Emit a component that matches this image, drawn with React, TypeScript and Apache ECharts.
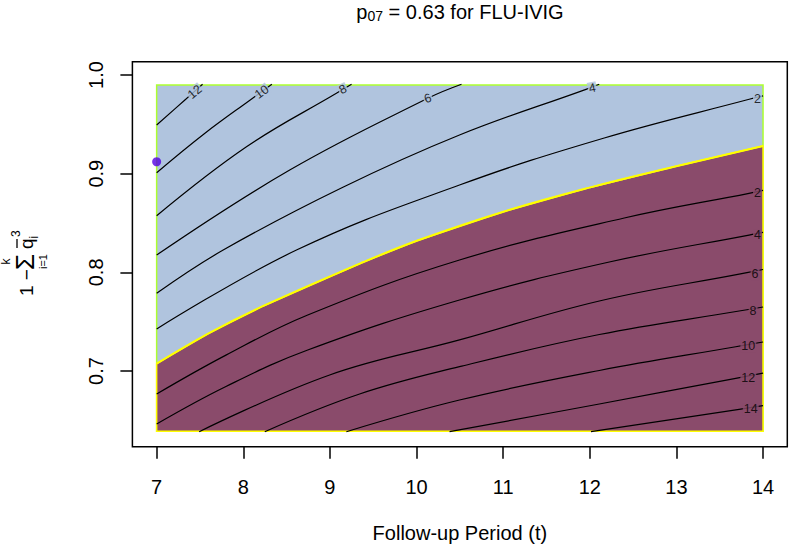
import React, { useEffect, useRef } from "react";
import * as echarts from "echarts";

// ---------- data (t = follow-up period, s = 1 - sum q) ----------
const xTicks = [7, 8, 9, 10, 11, 12, 13, 14];
const yTicks = [0.7, 0.8, 0.9, 1.0];
const xLimits = [6.72, 14.28];
const yLimits = [0.6233, 1.0135];
const regionT = [7, 14];
const regionS = [0.639, 0.99];

// zero contour (border between the two regions)
const boundary = [[7.0, 0.7075], [7.6, 0.7382], [8.225, 0.7657], [9.381, 0.8102], [10.012, 0.8323], [11.003, 0.8615], [12.006, 0.8861], [13.009, 0.9077], [14.0, 0.928]];

// contours above the border
const upper12 = [[7.0, 0.9493], [7.326, 0.9747], [7.53, 0.9906]];
const upper10 = [[7.0, 0.901], [7.55, 0.9405], [8.1, 0.976], [8.33, 0.9906]];
const upper8 = [[7.0, 0.8574], [8.037, 0.9273], [9.075, 0.9815], [9.25, 0.9906]];
const upper6 = [[7.0, 0.8176], [8.536, 0.9037], [10.13, 0.9764], [10.519, 0.9906]];
const upper4 = [[7.0, 0.7788], [7.768, 0.8226], [9.132, 0.8855], [10.496, 0.9392], [11.956, 0.9855], [12.109, 0.9906]];
const upper2 = [[7.0, 0.7426], [8.614, 0.8226], [10.496, 0.8885], [12.167, 0.9362], [13.84, 0.9754], [14.0, 0.9789]];

// contours below the border
const lower2 = [[7.0, 0.6767], [7.8, 0.7161], [8.744, 0.7568], [10.496, 0.8125], [12.398, 0.8551], [13.838, 0.8801], [14.0, 0.883]];
const lower4 = [[7.0, 0.6463], [7.8, 0.6843], [8.744, 0.7213], [10.496, 0.772], [12.225, 0.8105], [13.838, 0.8378], [14.0, 0.8405]];
const lower6 = [[7.491, 0.6385], [8.997, 0.696], [10.496, 0.7315], [12.11, 0.771], [13.724, 0.7982], [14.0, 0.8029]];
const lower8 = [[8.248, 0.6385], [9.343, 0.6767], [10.496, 0.7044], [12.11, 0.737], [13.724, 0.7608], [14.0, 0.7649]];
const lower10 = [[9.19, 0.6385], [10.496, 0.6706], [12.11, 0.7005], [13.685, 0.7246], [14.0, 0.7294]];
const lower12 = [[10.381, 0.6385], [12.11, 0.6666], [13.685, 0.6926], [14.0, 0.6978]];
const lower14 = [[12.014, 0.6385], [13.724, 0.6612], [14.0, 0.6649]];

// contour labels
const labelText = ["12", "10", "8", "6", "4", "2", "2", "4", "6", "8", "10", "12", "14"];
const labelT = [7.441, 8.214, 9.151, 10.13, 12.029, 13.936, 13.936, 13.936, 13.908, 13.885, 13.83, 13.83, 13.858];
const labelS = [0.9828, 0.9828, 0.9855, 0.9764, 0.9868, 0.9754, 0.8801, 0.8378, 0.7983, 0.7608, 0.7253, 0.6926, 0.6612];

// observed point
const pointT = [7];
const pointS = [0.9121];

// ---------- styles ----------
const FONT = "'Liberation Sans', Arial, Helvetica, sans-serif";
const BLUE = "#B0C4DE";
const PURPLE = "#8A4B6B";
const labelAngle = [40, 36, 26, 18, 12, 0, 0, 0, 0, 0, 0, 0, 0];
const labelUpperCount = 6;

const contourSets = [upper12, upper10, upper8, upper6, upper4, upper2, lower2, lower4, lower6, lower8, lower10, lower12, lower14];

function mid(fs: number, base: number) {
  return base - 0.35 * fs;
}

export default function App() {
  const ref = useRef<HTMLDivElement>(null);

  useEffect(() => {
    if (!ref.current) return;
    const chart = echarts.init(ref.current, null, { renderer: "svg" });

    const contourSeries = contourSets.map((pts) => ({
      type: "line",
      data: pts,
      smooth: 0.4,
      symbol: "none",
      silent: true,
      z: 3,
      lineStyle: { color: "#000", width: 1.2 },
    }));

    const option: any = {
      animation: false,
      backgroundColor: "#fff",
      grid: {
        left: 132.4,
        right: 3.7,
        top: 61.7,
        bottom: 100.3,
        show: true,
        borderColor: "#000",
        borderWidth: 1.5,
        backgroundColor: "transparent",
        containLabel: false,
        outerBoundsMode: "none",
      },
      xAxis: {
        type: "value",
        min: xLimits[0],
        max: xLimits[1],
        axisLine: { show: false },
        splitLine: { show: false },
        axisTick: {
          show: true,
          inside: false,
          length: 12,
          customValues: xTicks,
          lineStyle: { color: "#000", width: 1.5 },
        },
        axisLabel: {
          customValues: xTicks,
          margin: 30,
          fontSize: 20,
          color: "#000",
          fontFamily: FONT,
          formatter: (v: number) => String(v),
        },
        name: "Follow-up Period (t)",
        nameLocation: "middle",
        nameGap: 76,
        nameTextStyle: { fontSize: 20, color: "#000", fontFamily: FONT },
      },
      yAxis: {
        type: "value",
        min: yLimits[0],
        max: yLimits[1],
        axisLine: { show: false },
        splitLine: { show: false },
        axisTick: {
          show: true,
          inside: false,
          length: 12,
          customValues: yTicks,
          lineStyle: { color: "#000", width: 1.5 },
        },
        axisLabel: {
          customValues: yTicks,
          rotate: 90,
          margin: 26,
          fontSize: 20,
          color: "#000",
          fontFamily: FONT,
          formatter: (v: number) => v.toFixed(1),
        },
      },
      graphic: [
        {
          type: "text",
          x: 460,
          y: 1,
          silent: true,
          style: {
            text: "{p|p}{s|07}{m| = 0.63 for FLU-IVIG}",
            align: "center",
            textAlign: "center",
            verticalAlign: "top",
            textVerticalAlign: "top",
            fill: "#000",
            rich: {
              p: { fontSize: 20, lineHeight: 22, fontFamily: FONT, fill: "#000" },
              s: { fontSize: 14, lineHeight: 14, verticalAlign: "bottom", fontFamily: FONT, fill: "#000" },
              m: { fontSize: 20, lineHeight: 22, fontFamily: FONT, fill: "#000" },
            },
          },
        },
        {
          type: "group",
          x: 33,
          y: 297,
          rotation: Math.PI / 2,
          silent: true,
          children: [
            { type: "text", style: { text: "1 \u2212", x: 1, y: mid(19, 0), fontSize: 19, fontFamily: FONT, fill: "#000", align: "left", verticalAlign: "middle" } },
            { type: "text", style: { text: "\u03A3", x: 27, y: mid(26, 1), fontSize: 26, fontFamily: FONT, fill: "#000", align: "left", verticalAlign: "middle" } },
            { type: "text", style: { text: "k", x: 35.5, y: mid(12, -23), fontSize: 12, fontFamily: FONT, fill: "#000", align: "center", verticalAlign: "middle" } },
            { type: "text", style: { text: "i=1", x: 35.5, y: mid(11, 14), fontSize: 11, fontFamily: FONT, fill: "#000", align: "center", verticalAlign: "middle" } },
            { type: "text", style: { text: "q", x: 48, y: mid(19, 0), fontSize: 19, fontFamily: FONT, fill: "#000", align: "left", verticalAlign: "middle" } },
            { type: "line", shape: { x1: 49, y1: -16, x2: 58, y2: -16 }, style: { stroke: "#000", lineWidth: 1.3 } },
            { type: "text", style: { text: "i", x: 58.5, y: mid(12, 5), fontSize: 12, fontFamily: FONT, fill: "#000", align: "left", verticalAlign: "middle" } },
            { type: "text", style: { text: "3", x: 60, y: mid(12, -13), fontSize: 12, fontFamily: FONT, fill: "#000", align: "left", verticalAlign: "middle" } },
          ],
        },
      ],
      series: [
        {
          type: "custom",
          coordinateSystem: "cartesian2d",
          silent: true,
          clip: false,
          z: 1,
          data: [[regionT[0], regionS[0]]],
          renderItem: (params: any, api: any) => {
            const tl = api.coord([regionT[0], regionS[1]]);
            const br = api.coord([regionT[1], regionS[0]]);
            const pts = boundary.map((p) => api.coord(p));
            pts.push(api.coord([regionT[1], regionS[0]]));
            pts.push(api.coord([regionT[0], regionS[0]]));
            return {
              type: "group",
              children: [
                {
                  type: "rect",
                  shape: { x: tl[0], y: tl[1], width: br[0] - tl[0], height: br[1] - tl[1] },
                  style: { fill: BLUE, stroke: "#ADFF2F", lineWidth: 1.5 },
                },
                {
                  type: "polygon",
                  shape: { points: pts },
                  style: { fill: PURPLE, stroke: "#FFFF00", lineWidth: 1.5 },
                },
              ],
            };
          },
        },
        ...contourSeries,
        {
          type: "line",
          data: boundary,
          smooth: 0.4,
          symbol: "none",
          silent: true,
          z: 4,
          lineStyle: { color: "#FFFF00", width: 2 },
        },
        {
          type: "scatter",
          silent: true,
          z: 6,
          symbolSize: 0,
          itemStyle: { color: "rgba(0,0,0,0)" },
          data: labelText.map((t, i) => ({
            value: [labelT[i], labelS[i]],
            name: t,
            label: {
              rotate: labelAngle[i],
              backgroundColor: i < labelUpperCount ? BLUE : PURPLE,
            },
          })),
          label: {
            show: true,
            position: "inside",
            formatter: (p: any) => p.name,
            fontSize: 12.5,
            lineHeight: 12,
            color: "#000",
            fontFamily: FONT,
            padding: [0, 1],
          },
        },
        {
          type: "scatter",
          silent: true,
          z: 7,
          symbol: "circle",
          symbolSize: 9,
          itemStyle: { color: "#5200E4" },
          data: pointT.map((t, i) => [t, pointS[i]]),
        },
      ],
    };

    chart.setOption(option);
    return () => chart.dispose();
  }, []);

  return (
    <div
      ref={ref}
      style={{ position: "fixed", left: 0, top: 0, width: 791, height: 547 }}
    />
  );
}
